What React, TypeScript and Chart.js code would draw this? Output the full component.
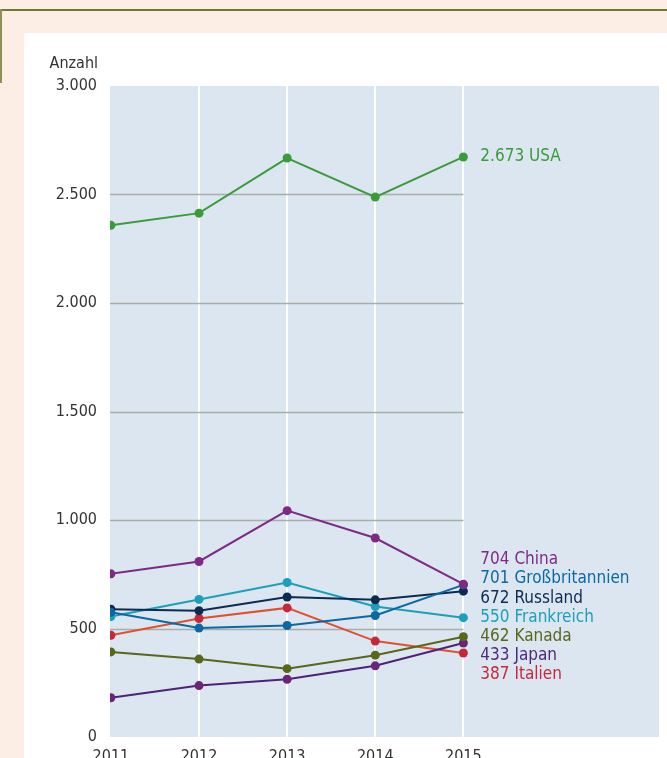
import React, { useEffect, useRef } from 'react';
import { Chart, registerables } from 'chart.js';
Chart.register(...registerables);

const years = [2011, 2012, 2013, 2014, 2015];
const countries = ['USA', 'China', 'Großbritannien', 'Russland', 'Frankreich', 'Kanada', 'Japan', 'Italien'];
const usa = [2358, 2414, 2668, 2488, 2673];
const china = [752, 809, 1043, 917, 704];
const grossbritannien = [575, 502, 514, 560, 701];
const russland = [589, 582, 645, 632, 672];
const frankreich = [555, 634, 712, 601, 550];
const kanada = [392, 359, 315, 377, 462];
const japan = [181, 237, 266, 328, 433];
const italien = [469, 546, 595, 442, 387];
const yTicks = [0, 500, 1000, 1500, 2000, 2500, 3000];
const yAxisTitle = 'Anzahl';

const seriesValues = [usa, china, grossbritannien, russland, frankreich, kanada, japan, italien];
const lineColors = ['#3a9b3a', '#7d2a85', '#0b68a5', '#0d2b52', '#1b9fba', '#58671a', '#4e2276', '#e0502e'];
const pointColors = ['#3a9b3a', '#7d2a85', '#0b68a5', '#0d2b52', '#1b9fba', '#58671a', '#6a2578', '#c4283b'];
const textColors = ['#3a9b3a', '#7d2a85', '#0b68a5', '#0d2b52', '#1b9fba', '#58671a', '#4e2a78', '#c8283c'];

const FONT = "'DejaVu Sans Condensed', 'DejaVu Sans', sans-serif";

function fmt(v: number): string {
  const s = String(Math.round(v));
  return s.replace(/\B(?=(\d{3})+(?!\d))/g, '.');
}

const bgPlugin = {
  id: 'bgPlugin',
  beforeDraw(chart: any) {
    const { ctx, chartArea } = chart;
    ctx.save();
    ctx.fillStyle = '#dce6f0';
    ctx.fillRect(chartArea.left, chartArea.top, chartArea.right - chartArea.left, chartArea.bottom - chartArea.top);
    ctx.fillStyle = '#333333';
    ctx.font = `16px ${FONT}`;
    ctx.textAlign = 'right';
    ctx.textBaseline = 'alphabetic';
    ctx.fillText(yAxisTitle, 98, 68);
    ctx.restore();
  },
  beforeDatasetsDraw(chart: any) {
    const { ctx, chartArea, scales } = chart;
    const x0 = chartArea.left;
    const x1 = scales.x.getPixelForValue(years[years.length - 1]);
    ctx.save();
    ctx.strokeStyle = '#a9abad';
    ctx.lineWidth = 1.5;
    yTicks.forEach((t) => {
      if (t <= 0 || t >= 3000) return;
      const y = Math.round(scales.y.getPixelForValue(t)) + 0.5;
      ctx.beginPath();
      ctx.moveTo(x0, y);
      ctx.lineTo(x1, y);
      ctx.stroke();
    });
    ctx.restore();
  },
  afterDatasetsDraw(chart: any) {
    const { ctx, scales } = chart;
    const last = years.length - 1;
    const x = scales.x.getPixelForValue(years[last]) + 17;
    ctx.save();
    ctx.font = `17px ${FONT}`;
    ctx.textAlign = 'left';
    ctx.textBaseline = 'middle';
    const stackTop = scales.y.getPixelForValue(seriesValues[1][last]) - 24.5;
    countries.forEach((name, i) => {
      const v = seriesValues[i][last];
      const y = i === 0 ? scales.y.getPixelForValue(v) : stackTop + (i - 1) * 19.2;
      ctx.fillStyle = textColors[i];
      ctx.fillText(`${fmt(v)} ${name}`, x, y);
    });
    ctx.restore();
  },
};

export default function App() {
  const ref = useRef<HTMLCanvasElement | null>(null);
  useEffect(() => {
    if (!ref.current) return;
    const datasets = countries.map((name, i) => ({
      label: name,
      data: years.map((yr, j) => ({ x: yr, y: seriesValues[i][j] })),
      borderColor: lineColors[i],
      backgroundColor: pointColors[i],
      pointBackgroundColor: pointColors[i],
      pointBorderColor: pointColors[i],
      pointRadius: 4.5,
      pointBorderWidth: 0,
      borderWidth: 2,
      tension: 0,
      fill: false,
    }));
    const chart = new Chart(ref.current, {
      type: 'line',
      data: { datasets },
      options: {
        animation: false,
        responsive: false,
        devicePixelRatio: 1,
        events: [],
        layout: { padding: { left: 0, right: 8, top: 86, bottom: 0 } },
        plugins: { legend: { display: false }, tooltip: { enabled: false }, title: { display: false } },
        scales: {
          x: {
            type: 'linear',
            min: 2010.99,
            max: 2017.22,
            afterBuildTicks: (axis: any) => {
              axis.ticks = years.map((v) => ({ value: v }));
            },
            afterFit: (scale: any) => {
              scale.height = 63;
            },
            ticks: {
              autoSkip: false,
              maxRotation: 0,
              padding: 10,
              color: '#333333',
              font: { family: FONT, size: 16 },
              callback: (v: any) => String(v),
            },
            grid: {
              drawTicks: false,
              lineWidth: 2,
              color: (c: any) => (c.tick && c.tick.value > years[0] ? '#ffffff' : 'rgba(0,0,0,0)'),
            },
            border: { display: false },
          },
          y: {
            type: 'linear',
            min: 0,
            max: 3000,
            afterBuildTicks: (axis: any) => {
              axis.ticks = yTicks.map((v) => ({ value: v }));
            },
            afterFit: (scale: any) => {
              scale.width = 110;
            },
            ticks: {
              padding: 13,
              color: '#333333',
              font: { family: FONT, size: 16 },
              callback: (v: any) => fmt(Number(v)),
            },
            grid: { display: false, drawTicks: false },
            border: { display: false },
          },
        },
      },
      plugins: [bgPlugin],
    } as any);
    return () => chart.destroy();
  }, []);

  return (
    <div style={{ position: 'fixed', left: 0, top: 0, width: 667, height: 758, overflow: 'hidden', background: '#fcede5' }}>
      <div style={{ position: 'absolute', left: 0, top: 9, width: 667, height: 2, background: '#6e7a2e' }} />
      <div style={{ position: 'absolute', left: 0, top: 9, width: 2, height: 74, background: '#8c9155' }} />
      <div style={{ position: 'absolute', left: 24, top: 33, width: 643, height: 725, background: '#ffffff' }} />
      <canvas ref={ref} width={667} height={800} style={{ position: 'absolute', left: 0, top: 0, width: 667, height: 800 }} />
    </div>
  );
}
